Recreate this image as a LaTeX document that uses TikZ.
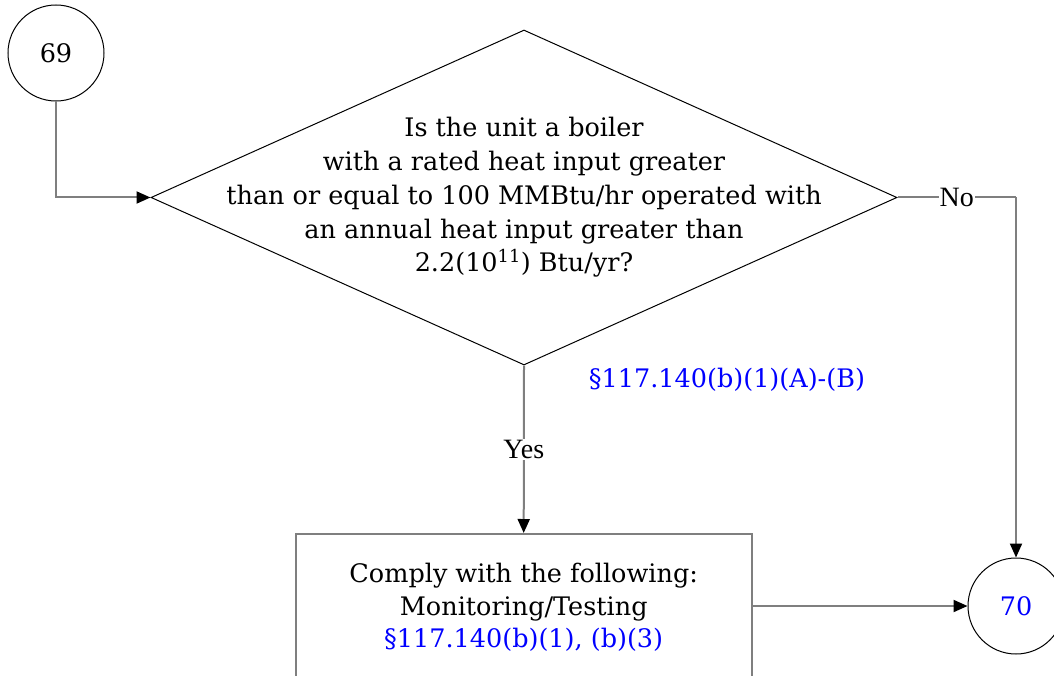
\documentclass[tikz,border=0pt]{standalone}
\usepackage{fontspec}
\setmainfont{DejaVu Serif}
\newfontfamily\timesf{Liberation Serif}
\usetikzlibrary{shapes.geometric,arrows.meta}
\definecolor{lgrey}{HTML}{7F7F7F}
\definecolor{refblue}{HTML}{0000FF}
\tikzset{
  conn/.style={draw=lgrey, line width=2pt, -{Triangle[length=14pt,width=12pt,color=black]}},
  plain/.style={draw=lgrey, line width=2pt},
  outline/.style={draw=black, line width=1pt},
  mainfont/.style={font=\fontsize{25.5}{33.7}\selectfont},
  boxfont/.style={font=\fontsize{25.5}{32.5}\selectfont},
  lbl/.style={font=\timesf\fontsize{28}{30}\selectfont, fill=white, inner sep=1pt},
}
\begin{document}
\begin{tikzpicture}[x=1pt,y=-1pt]
\useasboundingbox (0,0) rectangle (1054,676);
\node[circle, outline, minimum size=96pt, inner sep=0, mainfont] (c69) at (56,53) {69};
\node[diamond, outline, minimum width=746pt, minimum height=335pt, inner sep=0] (q) at (524,197.5) {};
\node[align=center, mainfont] (qtext) at (q.center) {Is the unit a boiler\\with a rated heat input greater\\than or equal to 100 MMBtu/hr operated with\\an annual heat input greater than\\2.2(10\textsuperscript{11}) Btu/yr?};
\node[text=refblue, mainfont] (ref1) at (727,380) {\S117.140(b)(1)(A)-(B)};
\node[rectangle, plain, minimum width=456pt, minimum height=240pt, inner sep=0] (box) at (523.7,654) {};
\node[align=center, boxfont] (boxtext) at (523.7,607.5) {Comply with the following:\\Monitoring/Testing\\\textcolor{refblue}{\S117.140(b)(1), (b)(3)}};
\node[circle, outline, minimum size=96pt, inner sep=0, mainfont, text=refblue] (c70) at (1016,606) {70};
\coordinate (bend1) at (c69 |- q.west);
\coordinate (bend2) at (c70 |- q.east);
\draw[conn] (c69.south) -- (bend1) -- (q.west);
\draw[plain] (q.east) -- node[lbl] {No} (bend2);
\draw[conn] (bend2) -- (c70.north);
\draw[conn] (q.south) -- node[lbl] {Yes} (box.north);
\draw[conn] (box.east |- c70) -- (c70.west);
\end{tikzpicture}
\end{document}
